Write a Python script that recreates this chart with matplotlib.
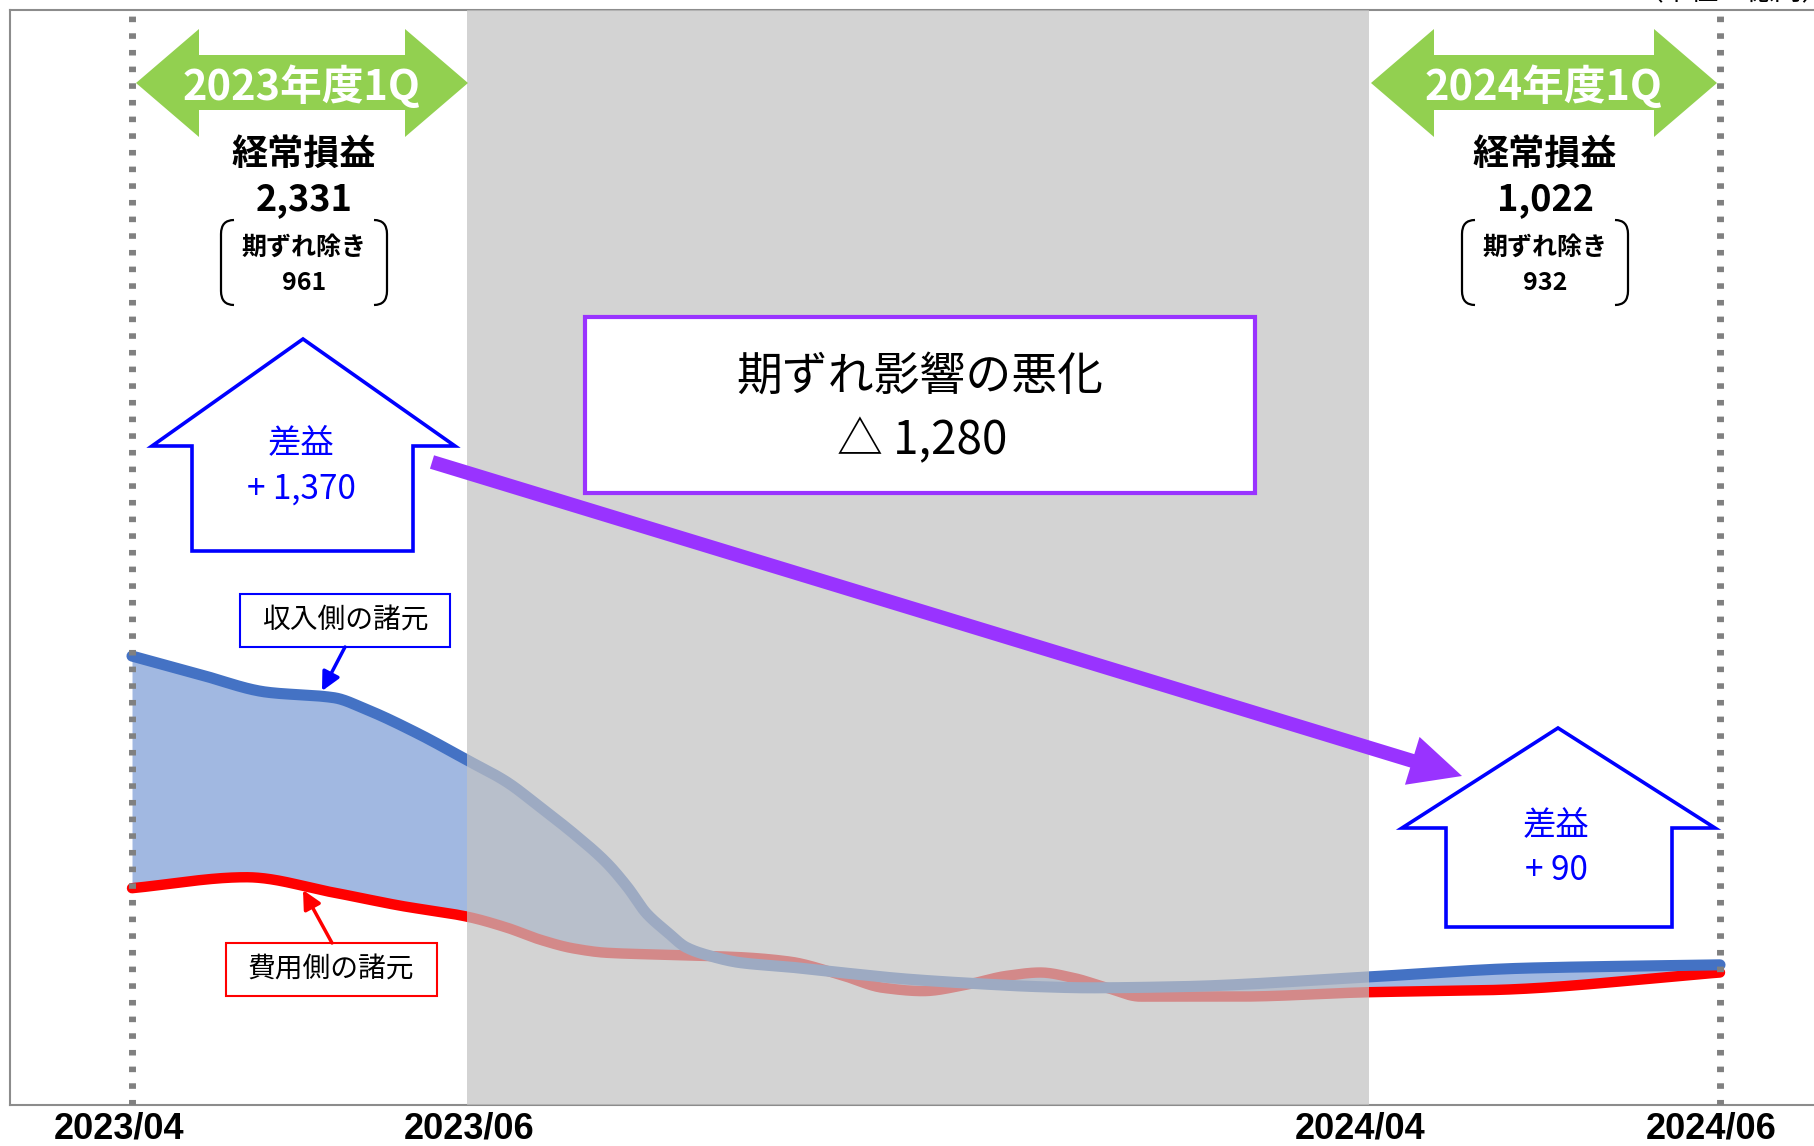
import matplotlib
matplotlib.use("Agg")
import matplotlib.pyplot as plt
import matplotlib.transforms as mtransforms
import numpy as np
from matplotlib.patches import Polygon, Rectangle, FancyArrow, PathPatch
from matplotlib.path import Path

plt.rcParams['font.family'] = ['Noto Sans CJK JP', 'DejaVu Sans']

# schematic timeline: 2023/04 = 0, 2024/06 = 100
period_x = [0, 21.1, 77.9, 100]
period_labels = ['2023/04', '2023/06', '2024/04', '2024/06']

# 収入側の諸元 (blue) - schematic level
rev_x = [0, 4.3, 8.5, 12.7, 14.8, 17.9, 21.1, 23.6, 25.7, 27.8, 29.9, 31.2, 32.4, 33.7,
         34.9, 36.2, 38.3, 41.4, 44.6, 48.8, 53.0, 57.2, 60.3, 65.8, 77.9, 87.8, 100]
rev_y = [41.0, 39.3, 37.7, 37.2, 36.1, 34.0, 31.5, 29.5, 27.2, 24.8, 22.1, 19.9, 17.5, 15.8,
         14.4, 13.7, 13.0, 12.6, 12.1, 11.5, 11.1, 10.8, 10.7, 10.8, 11.7, 12.5, 12.8]

# 費用側の諸元 (red)
cost_x = [0, 7.2, 12.7, 16.9, 21.1, 23.6, 25.7, 27.8, 29.9, 34.1, 38.3, 41.4, 44.6,
          47.3, 49.8, 52.6, 55.1, 57.2, 59.3, 61.4, 63.5, 69.6, 77.9, 85.7, 100]
cost_y = [19.8, 20.8, 19.4, 18.2, 17.2, 16.2, 15.1, 14.3, 13.9, 13.7, 13.5, 13.1, 11.9,
          10.7, 10.4, 11.0, 11.8, 12.1, 11.6, 10.7, 9.9, 9.9, 10.3, 10.5, 12.1]

fy_labels = ['2023年度1Q', '2024年度1Q']
keijo = ['2,331', '1,022']
kizure_jogai = ['961', '932']
saeki = ['+ 1,370', '+ 90']
kizure_text = '期ずれ影響の悪化'
kizure_value = '△ 1,280'


def pchip(x, y, xs):
    # monotone cubic interpolation (smooth curve through the read points)
    x = np.asarray(x, float)
    y = np.asarray(y, float)
    h = np.diff(x)
    d = np.diff(y) / h
    m = np.zeros_like(y)
    m[0], m[-1] = d[0], d[-1]
    for k in range(1, len(x) - 1):
        if d[k - 1] * d[k] > 0:
            w1 = 2 * h[k] + h[k - 1]
            w2 = h[k] + 2 * h[k - 1]
            m[k] = (w1 + w2) / (w1 / d[k - 1] + w2 / d[k])
    idx = np.clip(np.searchsorted(x, xs) - 1, 0, len(x) - 2)
    t = (xs - x[idx]) / h[idx]
    h00 = 2 * t ** 3 - 3 * t ** 2 + 1
    h10 = t ** 3 - 2 * t ** 2 + t
    h01 = -2 * t ** 3 + 3 * t ** 2
    h11 = t ** 3 - t ** 2
    return h00 * y[idx] + h10 * h[idx] * m[idx] + h01 * y[idx + 1] + h11 * h[idx] * m[idx + 1]


fig = plt.figure(figsize=(18.14, 11.46), dpi=100)
ax = fig.add_axes([10 / 1814, 41 / 1146, 1 - 10 / 1814, 1095 / 1146])
ax.set_xlim((10 - 132) / 15.88, (1814 - 132) / 15.88)
ax.set_ylim(0, 100)

gx = np.linspace(0, 100, 1500)
ry = pchip(rev_x, rev_y, gx)
cy = pchip(cost_x, cost_y, gx)
ax.fill_between(gx, cy, ry, color='#4472c4', alpha=0.5, lw=0, zorder=1)
ax.plot(gx, cy, color='#ff0000', lw=7.5, solid_capstyle='round', zorder=2)
ax.plot(gx, ry, color='#4472c4', lw=8, solid_capstyle='round', zorder=3)

ax.axvspan(period_x[1], period_x[2], color='#c2c2c2', alpha=0.71, lw=0, zorder=5)
for xv in (period_x[0], period_x[3]):
    ax.axvline(xv, color='#808080', lw=5, linestyle=(0, (0.8, 1.6)),
               dash_capstyle='butt', zorder=6)

ax.set_yticks([])
ax.set_xticks(period_x)
ax.set_xticklabels(period_labels, fontsize=26, fontweight='bold',
                   family=['Liberation Sans', 'DejaVu Sans'])
ax.tick_params(axis='x', length=0, pad=4.5)
for lab, dx in zip(ax.get_xticklabels(), [-13, 2, -9, -9]):
    lab.set_transform(lab.get_transform() + mtransforms.ScaledTranslation(dx / 100, 0, fig.dpi_scale_trans))
ax.spines['right'].set_visible(False)
for s in ('left', 'top', 'bottom'):
    ax.spines[s].set_color('#8c8c8c')
    ax.spines[s].set_linewidth(1.5)

# overlay in pixel coordinates for the annotations
ov = fig.add_axes([0, 0, 1, 1])
ov.set_xlim(0, 1814)
ov.set_ylim(1146, 0)
ov.axis('off')
ov.patch.set_alpha(0)

ov.text(1830, 7, '（単位：億円）', ha='right', va='bottom', fontsize=20)

for i, cx in enumerate([302, 1544]):
    hw = 166 if i == 0 else 173
    verts = [(cx - hw, 83), (cx - hw + 63, 29), (cx - hw + 63, 55), (cx + hw - 63, 55),
             (cx + hw - 63, 29), (cx + hw, 83), (cx + hw - 63, 137), (cx + hw - 63, 110),
             (cx - hw + 63, 110), (cx - hw + 63, 137)]
    ov.add_patch(Polygon(verts, closed=True, facecolor='#92d050', edgecolor='none', zorder=2))
    ov.text(cx, 87, fy_labels[i], ha='center', va='center', color='white', fontsize=30,
            fontweight='bold', zorder=3)
    bx = 304 if i == 0 else 1545
    ov.text(bx, 154, '経常損益', ha='center', va='center', fontsize=26, fontweight='bold')
    ov.text(bx, 200, keijo[i], ha='center', va='center', fontsize=26, fontweight='bold')
    ov.text(bx, 248, '期ずれ除き', ha='center', va='center', fontsize=18, fontweight='bold')
    ov.text(bx, 283, kizure_jogai[i], ha='center', va='center', fontsize=18, fontweight='bold')
    for side in (-1, 1):
        xe = bx + side * 83
        xi = bx + side * 70
        path = Path([(xi, 220), (xe, 220), (xe, 234), (xe, 291), (xe, 305), (xi, 305)],
                    [Path.MOVETO, Path.CURVE3, Path.CURVE3, Path.LINETO, Path.CURVE3, Path.CURVE3])
        ov.add_patch(PathPatch(path, facecolor='none', edgecolor='black', lw=1.6))

# house shaped boxes
houses = [((303, 339), 152, 455, 192, 413, 446, 551),
          ((1558, 728), 1402, 1715, 1446, 1672, 828, 927)]
for i, (apex, wl, wr, il, ir, ys, yb) in enumerate(houses):
    verts = [apex, (wr, ys), (ir, ys), (ir, yb), (il, yb), (il, ys), (wl, ys)]
    ov.add_patch(Polygon(verts, closed=True, facecolor='white', edgecolor='#0000ff',
                         lw=2.6, joinstyle='miter', zorder=2))
    ov.text(apex[0] - 2, ys - 3, '差益', ha='center', va='center', color='#0000ff', fontsize=24, zorder=3)
    ov.text(apex[0] - 2, ys + 43, saeki[i], ha='center', va='center', color='#0000ff', fontsize=24, zorder=3)

# purple box and arrow
ov.add_patch(Rectangle((585, 317), 670, 176, facecolor='white', edgecolor='#9933ff', lw=3, zorder=2))
ov.text(920, 376, kizure_text, ha='center', va='center', fontsize=33, zorder=3)
ov.text(922, 441, kizure_value, ha='center', va='center', fontsize=33, zorder=3)
ov.add_patch(FancyArrow(432, 462, 1030, 314, width=14, head_width=50, head_length=52,
                        length_includes_head=True, color='#9933ff', lw=0, zorder=4))

# series labels
ov.add_patch(Rectangle((240, 594), 210, 53, facecolor='white', edgecolor='#0000ff', lw=1.5, zorder=2))
ov.text(345, 621, '収入側の諸元', ha='center', va='center', fontsize=20, zorder=3)
ov.annotate('', xy=(322, 691), xytext=(345, 647),
            arrowprops=dict(arrowstyle='-|>', color='#0000ff', lw=2.5, mutation_scale=28,
                            shrinkA=0, shrinkB=0))
ov.add_patch(Rectangle((226, 943), 211, 53, facecolor='white', edgecolor='#ff0000', lw=1.5, zorder=2))
ov.text(331, 970, '費用側の諸元', ha='center', va='center', fontsize=20, zorder=3)
ov.annotate('', xy=(303, 890), xytext=(332, 943),
            arrowprops=dict(arrowstyle='-|>', color='#ff0000', lw=2.5, mutation_scale=28,
                            shrinkA=0, shrinkB=0))

fig.savefig('out.png', dpi=100)
